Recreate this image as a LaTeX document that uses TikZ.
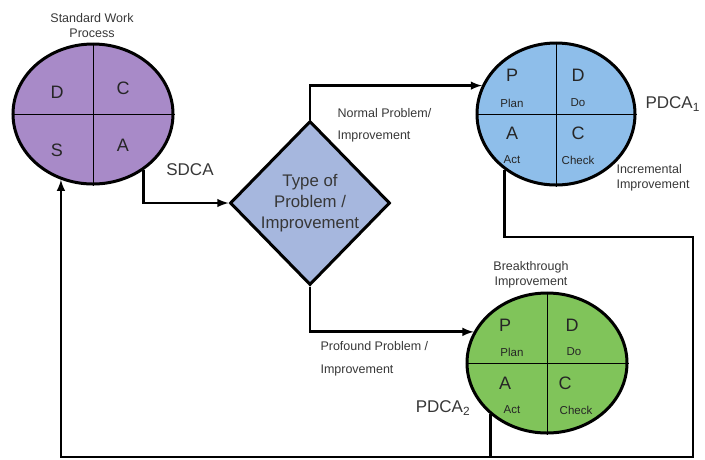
\documentclass[tikz,border=0pt]{standalone}
\usepackage{fontspec}
\setmainfont{Liberation Sans}
\usetikzlibrary{shapes.geometric, arrows}
\definecolor{sdcafill}{RGB}{168,138,200}
\definecolor{pdcaone}{RGB}{142,190,234}
\definecolor{pdcatwo}{RGB}{128,196,90}
\definecolor{typefill}{RGB}{166,183,222}
\definecolor{txtgray}{RGB}{55,55,55}
\begin{document}
\begin{tikzpicture}[x=1pt, y=-1pt,
  cycle/.style={ellipse, draw, line width=3pt, minimum width=160pt, minimum height=140pt, inner sep=0pt},
  conn/.style={line width=2.8pt, -latex},
  line/.style={line width=2.8pt},
  big/.style={font=\fontsize{18}{20}\selectfont, text=black!85},
  small/.style={font=\fontsize{11.5}{13}\selectfont, text=black!85},
  note/.style={font=\fontsize{12.5}{15}\selectfont, text=txtgray, align=center},
  tag/.style={font=\fontsize{17}{20}\selectfont, text=txtgray}]
\useasboundingbox (0,0) rectangle (705,459);

\node[cycle, fill=sdcafill] at (93,114) (sdca) {};
\node[cycle, fill=pdcaone, minimum width=158pt, minimum height=142pt] at (556,114) (pdca1) {};
\node[cycle, fill=pdcatwo] at (547,363) (pdca2) {};
\node[diamond, draw, line width=3pt, fill=typefill, minimum width=160pt, minimum height=164pt, inner sep=0pt,
  font=\fontsize{16.8}{21}\selectfont, text=txtgray, align=center] at (310,203) (type)
  {Type of\\Problem /\\Improvement};

% quadrants
\draw[line width=0.9pt] (sdca.north) -- (sdca.south);
\draw[line width=0.9pt] (sdca.west) -- (sdca.east);
\draw[line width=0.9pt] (pdca1.north) -- (pdca1.south);
\draw[line width=0.9pt] (pdca1.west) -- (pdca1.east);
\draw[line width=0.9pt] (pdca2.north) -- (pdca2.south);
\draw[line width=0.9pt] (pdca2.west) -- (pdca2.east);

\node[big] at (57,92) (sd) {D};
\node[big] at (123,88) (sc) {C};
\node[big] at (57,150) (ss) {S};
\node[big] at (123,145) (sa) {A};

\node[big] at (512,75) (p1) {P};
\node[small] at (512,103) (p1l) {Plan};
\node[big] at (578,75) (d1) {D};
\node[small] at (578,103) (d1l) {Do};
\node[big] at (512,133) (a1) {A};
\node[small] at (512,160) (a1l) {Act};
\node[big] at (578,133) (c1) {C};
\node[small] at (578,160) (c1l) {Check};

\node[big] at (505,325) (p2) {P};
\node[small] at (512,352) (p2l) {Plan};
\node[big] at (572,325) (d2) {D};
\node[small] at (574,352) (d2l) {Do};
\node[big] at (505,383) (a2) {A};
\node[small] at (512,410) (a2l) {Act};
\node[big] at (565,383) (c2) {C};
\node[small] at (576,410) (c2l) {Check};

% labels
\node[note] at (92,26) (std) {Standard Work\\Process};
\node[tag] at (190,170) (sdcatag) {SDCA};
\node[tag, anchor=west] at (642,104) (pdca1tag) {PDCA\textsubscript{1}};
\node[tag] at (443,408) (pdca2tag) {PDCA\textsubscript{2}};
\node[note, align=left, anchor=west] at (613,178) (incr) {Incremental\\Improvement};
\node[note] at (531,275) (brk) {Breakthrough\\Improvement};
\node[note, anchor=west] at (334,113) (norm1) {Normal Problem/};
\node[note, anchor=west] at (334,136) (norm2) {Improvement};
\node[note, anchor=west] at (317,346) (prof1) {Profound Problem /};
\node[note, anchor=west] at (317,370) (prof2) {Improvement};

% connectors
\coordinate (ret1) at (693,237);
\coordinate (ret2) at (693,457);
\draw[conn] (sdca.-48) |- (type.west);
\draw[conn] (type.north) |- (pdca1.159);
\draw[conn] (type.south) |- (pdca2.157);
\draw[conn] (pdca1.227) |- (ret1) -- (ret2) -| (sdca.244);
\draw[line] (pdca2.222) -- (pdca2.222 |- ret2);
\end{tikzpicture}
\end{document}
